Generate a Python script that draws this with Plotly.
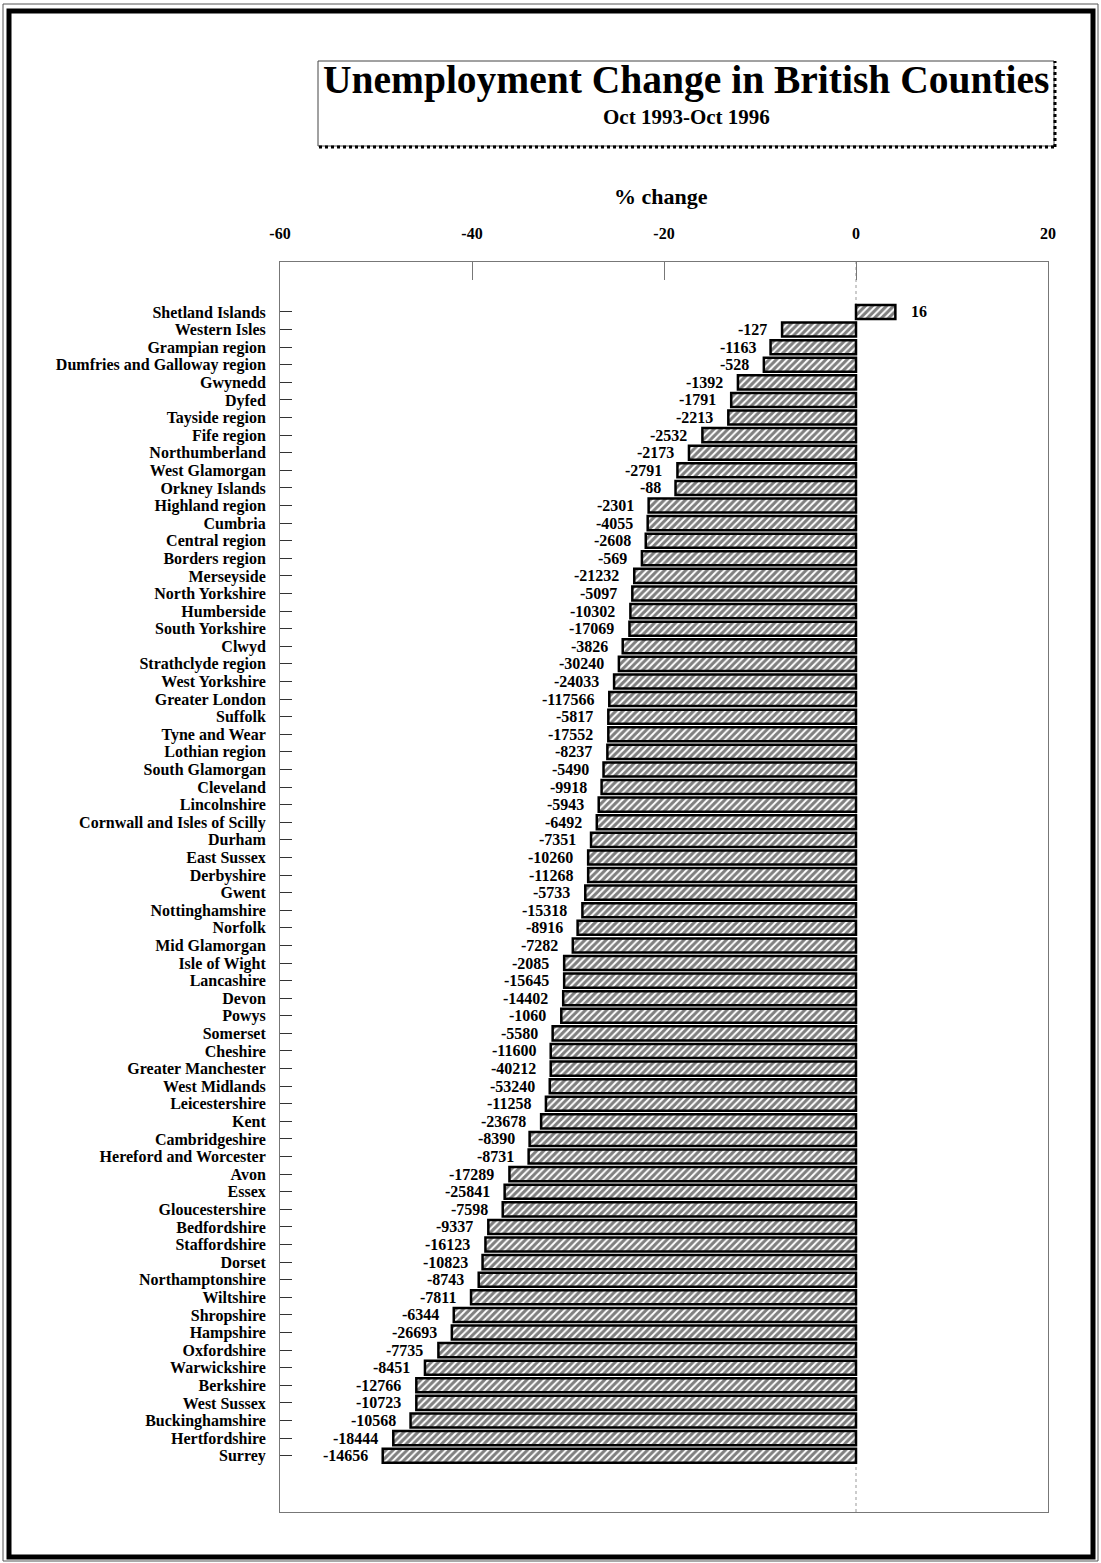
import plotly.graph_objects as go

counties = [
    "Shetland Islands", "Western Isles", "Grampian region", "Dumfries and Galloway region",
    "Gwynedd", "Dyfed", "Tayside region", "Fife region", "Northumberland", "West Glamorgan",
    "Orkney Islands", "Highland region", "Cumbria", "Central region", "Borders region",
    "Merseyside", "North Yorkshire", "Humberside", "South Yorkshire", "Clwyd",
    "Strathclyde region", "West Yorkshire", "Greater London", "Suffolk", "Tyne and Wear",
    "Lothian region", "South Glamorgan", "Cleveland", "Lincolnshire",
    "Cornwall and Isles of Scilly", "Durham", "East Sussex", "Derbyshire", "Gwent",
    "Nottinghamshire", "Norfolk", "Mid Glamorgan", "Isle of Wight", "Lancashire", "Devon",
    "Powys", "Somerset", "Cheshire", "Greater Manchester", "West Midlands", "Leicestershire",
    "Kent", "Cambridgeshire", "Hereford and Worcester", "Avon", "Essex", "Gloucestershire",
    "Bedfordshire", "Staffordshire", "Dorset", "Northamptonshire", "Wiltshire", "Shropshire",
    "Hampshire", "Oxfordshire", "Warwickshire", "Berkshire", "West Sussex",
    "Buckinghamshire", "Hertfordshire", "Surrey",
]

pct_change = [
    4.1, -7.7, -8.9, -9.6, -12.3, -13.0, -13.3, -16.0, -17.4, -18.6,
    -18.8, -21.6, -21.7, -21.9, -22.3, -23.1, -23.3, -23.5, -23.6, -24.3,
    -24.7, -25.2, -25.7, -25.8, -25.8, -25.9, -26.3, -26.5, -26.8, -27.0,
    -27.6, -27.9, -27.9, -28.2, -28.5, -29.0, -29.5, -30.4, -30.4, -30.5,
    -30.7, -31.6, -31.8, -31.8, -31.9, -32.3, -32.8, -34.0, -34.1, -36.1,
    -36.6, -36.8, -38.3, -38.6, -38.9, -39.3, -40.1, -41.9, -42.1, -43.5,
    -44.9, -45.8, -45.8, -46.4, -48.2, -49.3,
]

abs_change = [
    16, -127, -1163, -528, -1392, -1791, -2213, -2532, -2173, -2791,
    -88, -2301, -4055, -2608, -569, -21232, -5097, -10302, -17069, -3826,
    -30240, -24033, -117566, -5817, -17552, -8237, -5490, -9918, -5943, -6492,
    -7351, -10260, -11268, -5733, -15318, -8916, -7282, -2085, -15645, -14402,
    -1060, -5580, -11600, -40212, -53240, -11258, -23678, -8390, -8731, -17289,
    -25841, -7598, -9337, -16123, -10823, -8743, -7811, -6344, -26693, -7735,
    -8451, -12766, -10723, -10568, -18444, -14656,
]

x_ticks = [-60, -40, -20, 0, 20]

assert len(counties) == len(pct_change) == len(abs_change)

FONT = "Liberation Serif"
W, H = 1101, 1563
L, R, T, B = 280, 1048, 262, 1512


def px(xp):
    return (xp - L) / (R - L)


def py(yp):
    return (B - yp) / (B - T)


fig = go.Figure()
fig.add_trace(go.Bar(
    y=counties,
    x=pct_change,
    orientation="h",
    width=0.8,
    marker=dict(
        color="white",
        line=dict(color="black", width=2.5),
        pattern=dict(shape="/", fgcolor="black", bgcolor="white", size=5, solidity=0.6),
    ),
    showlegend=False,
    hoverinfo="x+y",
))

annotations = []
for name, p, a in zip(counties, pct_change, abs_change):
    annotations.append(dict(
        x=p, y=name, xref="x", yref="y",
        text=str(a), showarrow=False,
        xanchor="left" if p >= 0 else "right",
        xshift=14 if p >= 0 else -13,
        font=dict(family=FONT, size=16, color="black", weight="bold"),
    ))

# titles
annotations += [
    dict(x=px(686), y=py(80), xref="paper", yref="paper", showarrow=False,
         text="Unemployment Change in British Counties", xanchor="center", yanchor="middle",
         font=dict(family=FONT, size=39.5, color="black", weight="bold")),
    dict(x=px(686), y=py(117), xref="paper", yref="paper", showarrow=False,
         text="Oct 1993-Oct 1996", xanchor="center", yanchor="middle",
         font=dict(family=FONT, size=21, color="black", weight="bold")),
    dict(x=px(661), y=py(197), xref="paper", yref="paper", showarrow=False,
         text="% change", xanchor="center", yanchor="middle",
         font=dict(family=FONT, size=22, color="black", weight="bold")),
]

shapes = [
    # outer frame
    dict(type="rect", xref="paper", yref="paper",
         x0=px(9), x1=px(1093), y0=py(1557), y1=py(11),
         line=dict(color="black", width=5)),
    dict(type="rect", xref="paper", yref="paper",
         x0=px(3), x1=px(1098), y0=py(1561), y1=py(4),
         line=dict(color="#555", width=1)),
    # title box
    dict(type="rect", xref="paper", yref="paper",
         x0=px(318), x1=px(1054), y0=py(146), y1=py(61),
         line=dict(color="#444", width=1)),
    dict(type="line", xref="paper", yref="paper",
         x0=px(319), x1=px(1056), y0=py(147), y1=py(147),
         line=dict(color="black", width=3, dash="dot")),
    dict(type="line", xref="paper", yref="paper",
         x0=px(1055), x1=px(1055), y0=py(147), y1=py(61),
         line=dict(color="black", width=3, dash="dot")),
    # zero line
    dict(type="line", xref="x", yref="paper", x0=0, x1=0, y0=0, y1=1,
         line=dict(color="#999", width=1, dash="dot"), layer="below"),
]

fig.update_layout(
    width=W, height=H,
    margin=dict(l=L, r=W - R, t=T, b=H - B, pad=0),
    paper_bgcolor="white", plot_bgcolor="white",
    annotations=annotations,
    shapes=shapes,
    bargap=0.2,
    xaxis=dict(
        side="top", range=[-60, 20], tickvals=x_ticks,
        ticktext=[str(v) for v in x_ticks],
        showgrid=False, zeroline=False,
        ticks="inside", ticklen=18, tickcolor="#777", tickwidth=1,
        showline=True, linecolor="#777", linewidth=1, mirror=True,
        ticklabelstandoff=16,
        tickfont=dict(family=FONT, size=16, color="black", weight="bold"),
    ),
    yaxis=dict(
        type="category", categoryorder="array", categoryarray=counties,
        tickmode="array", tickvals=counties, ticktext=counties,
        range=[len(counties) + 2.2, -2.84],
        showgrid=False, zeroline=False,
        ticks="inside", ticklen=12, tickcolor="#333", tickwidth=1,
        showline=True, linecolor="#777", linewidth=1, mirror=True,
        ticklabelstandoff=10,
        tickfont=dict(family=FONT, size=16, color="black", weight="bold"),
    ),
    font=dict(family=FONT, color="black"),
)

fig.write_html(
    "out.html",
    config={"displayModeBar": False},
    post_script="document.body.style.margin='0';document.body.style.overflow='hidden';",
)
